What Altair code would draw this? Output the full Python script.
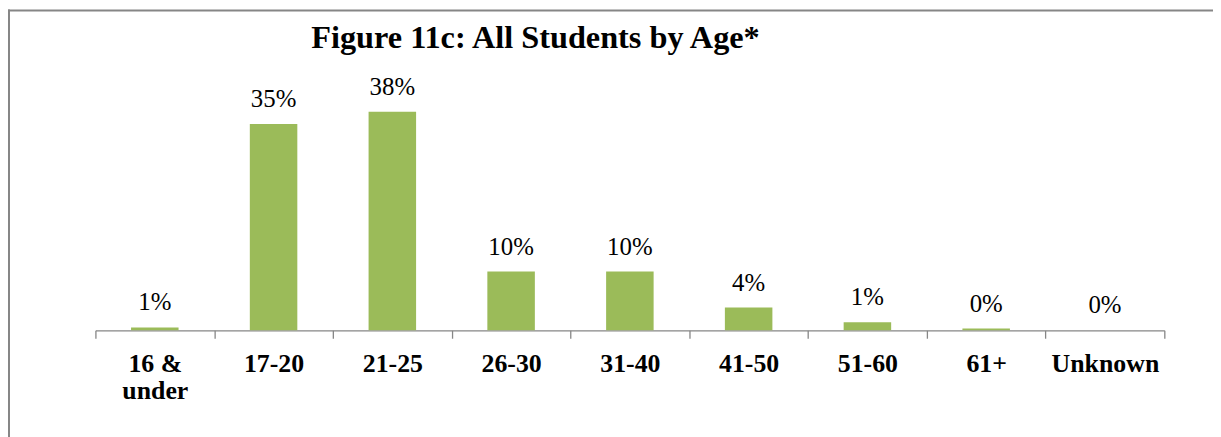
import altair as alt
import pandas as pd

categories = ["16 & under", "17-20", "21-25", "26-30", "31-40", "41-50", "51-60", "61+", "Unknown"]
values = [0.5, 35.5, 37.6, 10.1, 10.1, 3.9, 1.4, 0.3, 0.0]
labels = ["1%", "35%", "38%", "10%", "10%", "4%", "1%", "0%", "0%"]
title_text = "Figure 11c: All Students by Age*"

df = pd.DataFrame({"cat": categories, "value": values, "label": labels})

FONT = "Liberation Serif"
GRAY = "#868686"

x = alt.X(
    "cat:N",
    sort=categories,
    scale=alt.Scale(paddingInner=0, paddingOuter=0),
    axis=alt.Axis(
        title=None,
        labelAngle=0,
        labelFont=FONT,
        labelFontSize=26,
        labelFontWeight="bold",
        labelColor="black",
        labelPadding=12,
        labelLineHeight=28,
        labelLimit=0,
        labelExpr="datum.value == '16 & under' ? ['16 &', 'under'] : datum.value",
        domainColor=GRAY,
        domainWidth=1.3,
        tickColor=GRAY,
        tickWidth=1.3,
        tickSize=8,
        tickBand="extent",
    ),
)
y = alt.Y("value:Q", scale=alt.Scale(domain=[0, 40], nice=False, zero=True), axis=None)

bars = alt.Chart(df).mark_bar(color="#9BBB59", width=alt.RelativeBandSize(0.4)).encode(x=x, y=y)

texts = alt.Chart(df).mark_text(
    font=FONT, fontSize=25, color="black", baseline="alphabetic", dy=-17
).encode(x=x, y=y, text="label:N")

frame_df = pd.DataFrame({"k": [0]})
top_line = alt.Chart(frame_df).mark_rule(color=GRAY, strokeWidth=2).encode(
    x=alt.value(-89), x2=alt.value(1140), y=alt.value(-88)
)
left_line = alt.Chart(frame_df).mark_rule(color=GRAY, strokeWidth=2).encode(
    x=alt.value(-87), y=alt.value(-89), y2=alt.value(345)
)
title = alt.Chart(frame_df).mark_text(
    font=FONT, fontSize=32.5, fontWeight="bold", color="black",
    align="center", baseline="alphabetic"
).encode(x=alt.value(443), y=alt.value(-50), text=alt.value(title_text))

chart = (
    alt.layer(top_line, left_line, title, bars, texts)
    .properties(
        width=1076,
        height=234,
        padding={"left": 88, "top": 89, "right": 49, "bottom": 106},
        autosize=alt.AutoSizeParams(type="none"),
    )
    .configure_view(stroke=None)
)

chart.save("out.html", embed_options={"renderer": "svg", "actions": False})
